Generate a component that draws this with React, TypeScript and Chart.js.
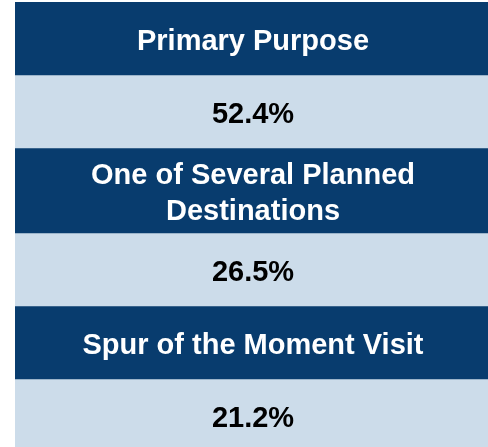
import React, { useEffect, useRef } from "react";
import { Chart, registerables } from "chart.js";

Chart.register(...registerables);

// ---- data ----
const categories: string[] = [
  "Primary Purpose",
  "One of Several Planned Destinations",
  "Spur of the Moment Visit",
];
const shares: number[] = [52.4, 26.5, 21.2];

// ---- style / layout ----
const HEADER_BG = "#083C6E";
const VALUE_BG = "#CCDCEA";
const HEADER_FG = "#FFFFFF";
const VALUE_FG = "#000000";
const FONT_SIZE = 29;
const FONT = `bold ${FONT_SIZE}px "Liberation Sans", Arial, Helvetica, sans-serif`;
const LINE_HEIGHT = 36;
const CELL_BASE = 73;
const EXTRA_PER_LINE = 12;
const TABLE_LEFT = 15;
const TABLE_TOP = 2;
const TABLE_WIDTH = 476;
const TEXT_PAD = 20;

function wrapText(ctx: CanvasRenderingContext2D, text: string, maxWidth: number): string[] {
  const words = text.split(" ");
  const lines: string[] = [];
  let cur = "";
  for (const w of words) {
    const test = cur ? cur + " " + w : w;
    if (cur && ctx.measureText(test).width > maxWidth) {
      lines.push(cur);
      cur = w;
    } else {
      cur = test;
    }
  }
  if (cur) lines.push(cur);
  return lines;
}

type Cell = { lines: string[]; bg: string; fg: string; height: number };

function buildCells(): Cell[] {
  const c = document.createElement("canvas");
  const ctx = c.getContext("2d") as CanvasRenderingContext2D;
  ctx.font = FONT;
  const cells: Cell[] = [];
  categories.forEach((cat, i) => {
    const lines = wrapText(ctx, cat, TABLE_WIDTH - 2 * TEXT_PAD);
    cells.push({
      lines,
      bg: HEADER_BG,
      fg: HEADER_FG,
      height: CELL_BASE + (lines.length - 1) * EXTRA_PER_LINE,
    });
    cells.push({
      lines: [shares[i].toFixed(1) + "%"],
      bg: VALUE_BG,
      fg: VALUE_FG,
      height: CELL_BASE,
    });
  });
  return cells;
}

const cellTextPlugin = {
  id: "cellText",
  afterDatasetsDraw(chart: any) {
    const ctx: CanvasRenderingContext2D = chart.ctx;
    ctx.save();
    ctx.font = FONT;
    ctx.textAlign = "center";
    ctx.textBaseline = "alphabetic";
    const capHalf = FONT_SIZE * 0.358;
    chart.data.datasets.forEach((ds: any, i: number) => {
      const meta = chart.getDatasetMeta(i);
      const el = meta.data[0];
      if (!el) return;
      const p = el.getProps(["x", "y", "base"], true);
      const cy = (p.y + p.base) / 2 + 1;
      const lines: string[] = ds.cellLines;
      ctx.fillStyle = ds.cellColor;
      const n = lines.length;
      lines.forEach((ln, k) => {
        ctx.fillText(ln, p.x, cy + capHalf + (k - (n - 1) / 2) * LINE_HEIGHT);
      });
    });
    ctx.restore();
  },
};

export default function App() {
  const canvasRef = useRef<HTMLCanvasElement | null>(null);
  const cells = buildCells();
  const total = cells.reduce((s, c) => s + c.height, 0);

  useEffect(() => {
    if (!canvasRef.current) return;
    const cs = buildCells();
    const tot = cs.reduce((s, c) => s + c.height, 0);
    const chart = new Chart(canvasRef.current, {
      type: "bar",
      data: {
        labels: ["table"],
        datasets: cs.map((c) => ({
          label: c.lines.join(" "),
          data: [c.height],
          backgroundColor: c.bg,
          borderWidth: 0,
          stack: "table",
          categoryPercentage: 1,
          barPercentage: 1,
          cellLines: c.lines,
          cellColor: c.fg,
        })) as any,
      },
      options: {
        animation: false,
        responsive: true,
        maintainAspectRatio: false,
        layout: { padding: 0 },
        events: [],
        plugins: {
          legend: { display: false },
          tooltip: { enabled: false },
          title: { display: false },
        },
        scales: {
          x: { type: "category", stacked: true, display: false },
          y: {
            type: "linear",
            stacked: true,
            reverse: true,
            min: 0,
            max: tot,
            display: false,
          },
        },
      },
      plugins: [cellTextPlugin],
    });
    return () => chart.destroy();
  }, []);

  return (
    <div
      style={{
        position: "fixed",
        left: TABLE_LEFT,
        top: TABLE_TOP,
        width: TABLE_WIDTH,
        height: total,
      }}
    >
      <canvas ref={canvasRef} />
    </div>
  );
}
